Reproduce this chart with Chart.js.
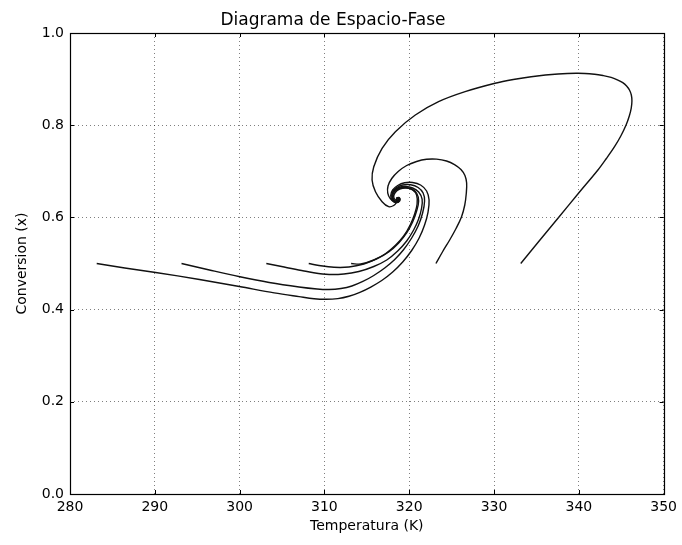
<!DOCTYPE html>
<html>
<head>
<meta charset="utf-8">
<script src="https://cdn.jsdelivr.net/npm/chart.js@4.4.1/dist/chart.umd.min.js"></script>
<style>
  html, body { margin: 0; padding: 0; background: #ffffff; }
  #wrap { width: 682px; height: 545px; }
</style>
</head>
<body>
<div id="wrap"><canvas id="c" width="682" height="545"></canvas></div>
<script>
// Axis tick values
const xTicks = [280, 290, 300, 310, 320, 330, 340, 350];
const yTicks = [0.0, 0.2, 0.4, 0.6, 0.8, 1.0];

// Trajectory starting at T0 = 283.15 K
const temp283 = [283.15,286.46,290.10,295.27,299.97,304.08,307.01,308.78,310.18,311.59,312.89,314.18,315.47,316.76,318.05,319.23,320.29,321.17,321.81,322.22,322.34,322.05,321.34,320.40,319.46,318.64,318.05,317.82,318.00,318.46,318.88,318.82,318.46];
const conv283 = [0.5000,0.4902,0.4805,0.4653,0.4501,0.4364,0.4282,0.4236,0.4223,0.4239,0.4289,0.4375,0.4490,0.4631,0.4816,0.5033,0.5282,0.5553,0.5835,0.6117,0.6377,0.6573,0.6703,0.6757,0.6751,0.6692,0.6594,0.6475,0.6367,0.6317,0.6356,0.6432,0.6410];

// Trajectory starting at T0 = 293.15 K
const temp293 = [293.15,296.44,300.03,303.49,307.01,309.13,310.54,311.95,313.24,314.53,315.82,317.11,318.29,319.35,320.29,321.05,321.58,321.81,321.64,321.05,320.17,319.23,318.52,318.05,317.96,318.23,318.70,318.88,318.58];
const conv293 = [0.5000,0.4859,0.4712,0.4588,0.4490,0.4447,0.4436,0.4458,0.4512,0.4610,0.4740,0.4902,0.5087,0.5304,0.5553,0.5813,0.6095,0.6356,0.6529,0.6648,0.6707,0.6703,0.6648,0.6551,0.6432,0.6345,0.6334,0.6399,0.6421];

// Trajectory starting at T0 = 303.15 K
const temp303 = [303.15,305.25,307.60,310.18,312.30,314.06,315.82,317.35,318.64,319.70,320.52,321.11,321.46,321.52,321.11,320.40,319.58,318.76,318.17,318.00,318.23,318.70,318.88,318.52];
const conv303 = [0.5000,0.4924,0.4837,0.4766,0.4772,0.4826,0.4935,0.5076,0.5271,0.5488,0.5727,0.5965,0.6204,0.6399,0.6551,0.6638,0.6670,0.6648,0.6573,0.6464,0.6367,0.6345,0.6410,0.6421];

// Trajectory starting at T0 = 308.15 K
const temp308 = [308.15,309.36,311.12,312.89,314.65,316.17,317.58,318.76,319.70,320.40,320.87,321.11,320.87,320.29,319.46,318.76,318.23,318.05,318.35,318.76,318.64];
const conv308 = [0.5000,0.4957,0.4918,0.4924,0.4989,0.5098,0.5249,0.5445,0.5662,0.5900,0.6139,0.6356,0.6529,0.6616,0.6648,0.6627,0.6551,0.6442,0.6356,0.6367,0.6421];

// Trajectory starting at T0 = 313.15 K
const temp313 = [313.15,314.30,315.82,317.23,318.41,319.35,320.11,320.64,320.93,320.87,320.40,319.70,318.88,318.35,318.17,318.46,318.76];
const conv313 = [0.5000,0.4989,0.5076,0.5217,0.5401,0.5597,0.5835,0.6074,0.6291,0.6486,0.6594,0.6638,0.6616,0.6540,0.6442,0.6367,0.6388];

// Trajectory starting at T0 = 323.15 K
const temp323 = [323.15,323.95,324.77,325.52,326.16,326.55,326.73,326.77,326.57,326.10,325.34,324.40,323.22,322.05,320.87,319.70,318.70,317.94,317.50,317.47,317.76,318.23,318.70,318.70,318.46];
const conv323 = [0.5000,0.5260,0.5510,0.5759,0.6009,0.6269,0.6523,0.6746,0.6909,0.7039,0.7147,0.7223,0.7263,0.7260,0.7213,0.7126,0.6996,0.6844,0.6681,0.6529,0.6410,0.6345,0.6367,0.6432,0.6410];

// Trajectory starting at T0 = 333.15 K
const temp333 = [333.15,335.32,337.61,339.96,342.25,343.25,344.21,344.95,345.57,345.95,346.18,346.26,346.19,345.97,345.63,345.18,344.54,343.81,342.84,341.86,339.90,337.55,334.38,332.27,330.12,326.59,323.46,320.72,318.37,316.80,315.82,315.62,316.02,316.80,317.58,318.17,318.52,318.58,318.41];
const conv333 = [0.5000,0.5488,0.5998,0.6523,0.7028,0.7278,0.7534,0.7766,0.8004,0.8200,0.8373,0.8525,0.8655,0.8764,0.8850,0.8922,0.8985,0.9039,0.9078,0.9104,0.9126,0.9111,0.9052,0.8991,0.8909,0.8727,0.8510,0.8221,0.7859,0.7499,0.7100,0.6811,0.6557,0.6341,0.6232,0.6258,0.6334,0.6399,0.6388];

const series = [
  [temp283, conv283], [temp293, conv293], [temp303, conv303], [temp308, conv308],
  [temp313, conv313], [temp323, conv323], [temp333, conv333]
];

const FONT = 'DejaVu Sans';

const datasets = series.map(([t, x]) => ({
  data: t.map((v, i) => ({ x: v, y: x[i] })),
  showLine: true,
  borderColor: '#111111',
  borderWidth: 1.4,
  pointRadius: 0,
  pointHoverRadius: 0,
  tension: 0.35,
  fill: false
}));

// Frame box and inward ticks on all four sides (matplotlib classic style)
const framePlugin = {
  id: 'frame',
  afterDatasetsDraw(chart) {
    const { ctx, chartArea: a, scales } = chart;
    ctx.save();
    ctx.strokeStyle = '#000';
    ctx.lineWidth = 1;
    const L = 4;
    ctx.beginPath();
    xTicks.forEach(v => {
      const px = Math.round(scales.x.getPixelForValue(v)) + 0.5;
      ctx.moveTo(px, a.bottom); ctx.lineTo(px, a.bottom - L);
      ctx.moveTo(px, a.top); ctx.lineTo(px, a.top + L);
    });
    yTicks.forEach(v => {
      const py = Math.round(scales.y.getPixelForValue(v)) + 0.5;
      ctx.moveTo(a.left, py); ctx.lineTo(a.left + L, py);
      ctx.moveTo(a.right, py); ctx.lineTo(a.right - L, py);
    });
    ctx.stroke();
    ctx.lineWidth = 1.2;
    ctx.strokeRect(Math.round(a.left) + 0.5, Math.round(a.top) + 0.5,
                   Math.round(a.right - a.left), Math.round(a.bottom - a.top));
    ctx.restore();
  }
};

Chart.defaults.font.family = FONT;

new Chart(document.getElementById('c'), {
  type: 'scatter',
  data: { datasets },
  plugins: [framePlugin],
  options: {
    responsive: false,
    animation: false,
    devicePixelRatio: 1,
    layout: { padding: { left: 0, right: 16, top: 0, bottom: 0 } },
    plugins: {
      legend: { display: false },
      tooltip: { enabled: false },
      title: {
        display: true,
        text: 'Diagrama de Espacio-Fase',
        color: '#000',
        font: { family: FONT, size: 17, weight: 'normal' },
        padding: { top: 10, bottom: 2.6 }
      }
    },
    scales: {
      x: {
        type: 'linear',
        min: 280, max: 350,
        afterBuildTicks(scale) { scale.ticks = xTicks.map(v => ({ value: v })); },
        afterFit(scale) { scale.height = 51; },
        border: { display: false, dash: [1, 3] },
        grid: { color: 'rgba(0,0,0,0.5)', lineWidth: 1, drawTicks: false, tickLength: 0 },
        ticks: {
          color: '#000', padding: 5,
          font: { family: FONT, size: 14 },
          maxRotation: 0,
          callback: v => String(v)
        },
        title: {
          display: true, text: 'Temperatura (K)', color: '#000',
          font: { family: FONT, size: 14 },
          padding: { top: 0, bottom: 10 }
        }
      },
      y: {
        type: 'linear',
        min: 0, max: 1,
        afterBuildTicks(scale) { scale.ticks = yTicks.map(v => ({ value: v })); },
        afterFit(scale) { scale.width = 70; },
        border: { display: false, dash: [1, 3] },
        grid: { color: 'rgba(0,0,0,0.5)', lineWidth: 1, drawTicks: false, tickLength: 0 },
        ticks: {
          color: '#000', padding: 6,
          font: { family: FONT, size: 14 },
          callback: v => Number(v).toFixed(1)
        },
        title: {
          display: true, text: 'Conversion (x)', color: '#000',
          font: { family: FONT, size: 14 },
          padding: { top: 14, bottom: 0 }
        }
      }
    }
  }
});

// dotted grid lines
const ch = Chart.getChart('c');
ch.options.scales.x.grid.borderDash = [1, 3];
ch.options.scales.y.grid.borderDash = [1, 3];
ch.update('none');
</script>
</body>
</html>
